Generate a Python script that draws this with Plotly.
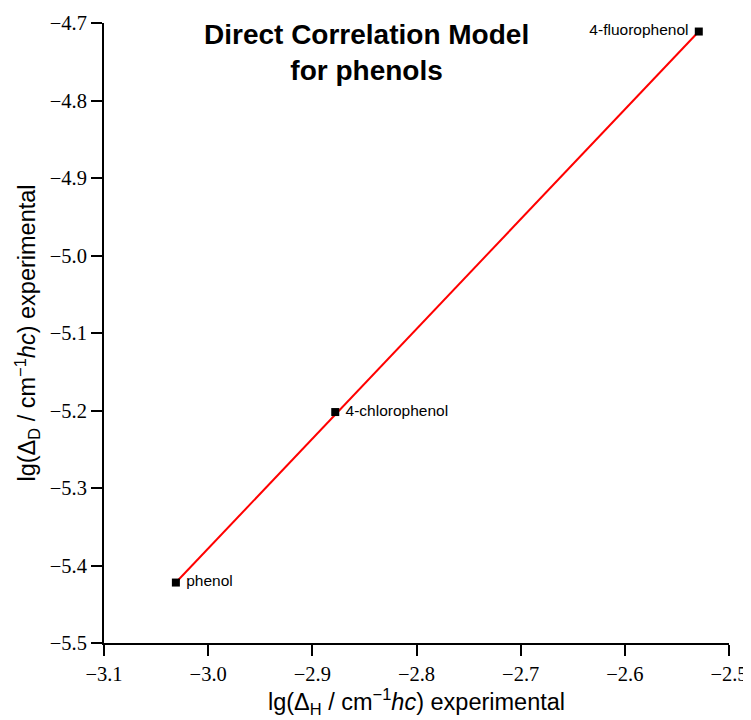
import plotly.graph_objects as go

compounds = ["phenol", "4-chlorophenol", "4-fluorophenol"]
lg_dH = [-3.031, -2.878, -2.529]
lg_dD = [-5.422, -5.202, -4.711]
fit_x = [-3.031, -2.529]
fit_y = [-5.422, -4.711]
label_pos = ["middle right", "middle right", "middle left"]

x_ticks = [-3.1, -3.0, -2.9, -2.8, -2.7, -2.6, -2.5]
y_ticks = [-5.5, -5.4, -5.3, -5.2, -5.1, -5.0, -4.9, -4.8, -4.7]

def fmt(v):
    return ("\u2212" if v < 0 else "") + f"{abs(v):.1f}"

fig = go.Figure()
fig.add_trace(go.Scatter(x=fit_x, y=fit_y, mode="lines",
                         line=dict(color="#ff0000", width=2), hoverinfo="skip",
                         showlegend=False))
fig.add_trace(go.Scatter(x=lg_dH, y=lg_dD, mode="markers+text",
                         text=[" " + c if p.endswith("right") else c + " " for c, p in zip(compounds, label_pos)],
                         textposition=label_pos,
                         textfont=dict(family="Liberation Sans, Arial", size=15.5, color="black"),
                         marker=dict(symbol="square", size=8, color="black"),
                         cliponaxis=False,
                         showlegend=False))

axis_common = dict(showline=True, linecolor="black", linewidth=2, ticks="outside",
                   ticklen=11, tickwidth=2, tickcolor="black", showgrid=False,
                   zeroline=False, mirror=False, automargin=False,
                   tickfont=dict(family="Liberation Serif, Times New Roman", size=20.5, color="black"))

fig.update_xaxes(range=[-3.1, -2.5], tickvals=x_ticks, ticktext=[fmt(v) for v in x_ticks],
                 title=dict(text="lg(Δ<sub>H</sub> / cm<sup>−1</sup><i>hc</i>) experimental",
                            font=dict(family="Liberation Sans, Arial", size=23.5, color="black"),
                            standoff=10),
                 **axis_common)
fig.update_yaxes(range=[-5.5, -4.7], tickvals=y_ticks, ticktext=[fmt(v) for v in y_ticks],
                 title=dict(text="lg(Δ<sub>D</sub> / cm<sup>−1</sup><i>hc</i>) experimental",
                            font=dict(family="Liberation Sans, Arial", size=23.5, color="black"),
                            standoff=7),
                 **axis_common)

fig.add_annotation(text="<b>Direct Correlation Model<br>for phenols</b>",
                   xref="paper", yref="paper", x=0.42, y=1.01, xanchor="center", yanchor="top",
                   showarrow=False, align="center",
                   font=dict(family="Liberation Sans, Arial", size=28, color="black"))

fig.update_layout(width=743, height=712, plot_bgcolor="white", paper_bgcolor="white",
                  margin=dict(l=96, r=22, t=15, b=77), showlegend=False)

fig.write_html("out.html")
